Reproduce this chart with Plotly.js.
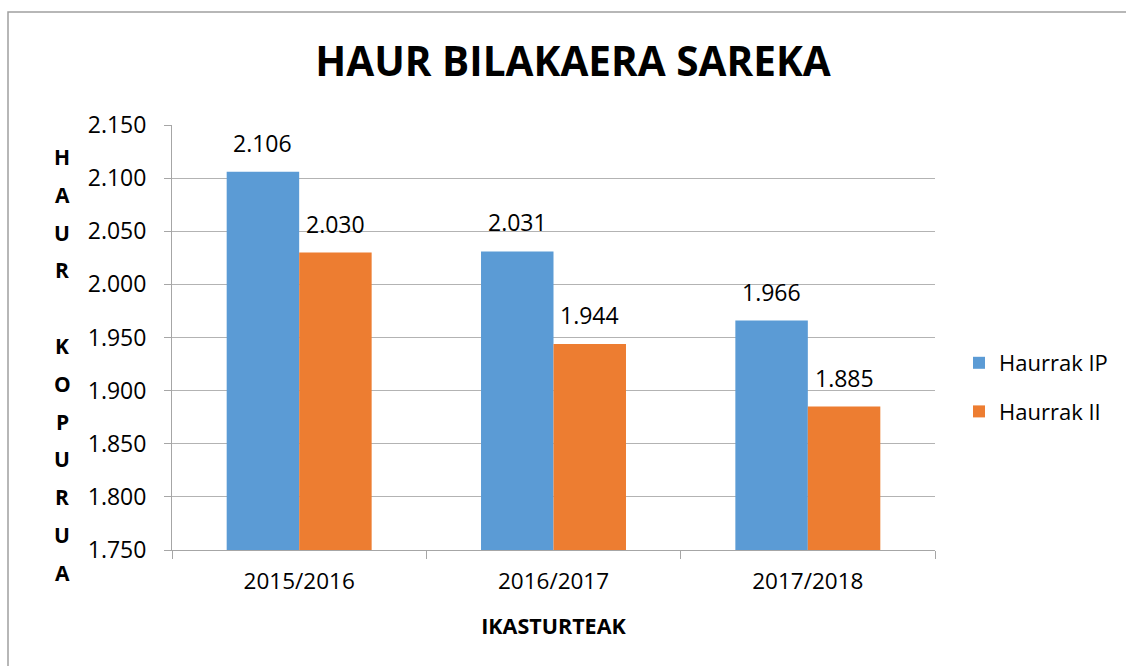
<!DOCTYPE html>
<html>
<head>
<meta charset="utf-8">
<script src="https://cdn.plot.ly/plotly-3.0.1.min.js"></script>
<style>html,body{margin:0;padding:0;background:#fff;}#chart{width:1126px;height:666px;}</style>
</head>
<body>
<div id="chart"></div>
<script>
const categories = ["2015/2016", "2016/2017", "2017/2018"];
const seriesNames = ["Haurrak IP", "Haurrak II"];
const valuesIP = [2106, 2031, 1966];
const valuesII = [2030, 1944, 1885];
const chartTitle = "HAUR BILAKAERA SAREKA";
const xTitle = "IKASTURTEAK";
const yTitle = "HAUR KOPURUA";

const W = 1126, H = 666;
const M = {l: 172, r: 191, t: 125, b: 116};
const pw = W - M.l - M.r, ph = H - M.t - M.b;
const px = x => (x - M.l) / pw;
const py = y => (H - M.b - y) / ph;

const FONT = "Open Sans, Noto Sans, sans-serif";
const colors = ["#5B9BD5", "#ED7D31"];
const bargap = 0.43;
const off = (1 - bargap) / 4;

const traces = [
  {type: "bar", name: seriesNames[0], x: categories, y: valuesIP, marker: {color: colors[0]}, legendgroup: "a"},
  {type: "bar", name: seriesNames[1], x: categories, y: valuesII, marker: {color: colors[1]}, legendgroup: "b"}
];

const fmt = v => Math.floor(v / 1000) + "." + String(v % 1000).padStart(3, "0");

const annotations = [];
[valuesIP, valuesII].forEach((vals, s) => {
  vals.forEach((v, i) => {
    annotations.push({
      x: i + (s === 0 ? -off : off), y: v, xref: "x", yref: "y",
      text: fmt(v),
      showarrow: false, yanchor: "bottom", yshift: 11,
      font: {family: FONT, size: 23, color: "#000"}
    });
  });
});

// stacked y-axis title letters
const letters = yTitle.split("");
const yStart = 157, yStep = 37.8;
letters.forEach((ch, k) => {
  if (ch === " ") return;
  annotations.push({
    x: px(62), y: py(yStart + k * yStep), xref: "paper", yref: "paper",
    text: "<b>" + ch + "</b>", showarrow: false, xanchor: "center", yanchor: "middle",
    font: {family: FONT, size: 21, color: "#000"}
  });
});

const layout = {
  width: W, height: H,
  margin: M,
  paper_bgcolor: "#fff", plot_bgcolor: "#fff",
  separators: ",.",
  font: {family: FONT, color: "#000"},
  title: {text: "<b>" + chartTitle + "</b>", font: {family: FONT, size: 40.5, color: "#000"},
          x: px(573), xref: "paper", xanchor: "center", y: 1 - 62 / H, yanchor: "middle"},
  barmode: "group", bargap: bargap, bargroupgap: 0,
  xaxis: {
    type: "category", showgrid: false, showline: true, linecolor: "#a6a6a6", linewidth: 1,
    ticks: "outside", tickson: "boundaries", ticklen: 8, tickcolor: "#a6a6a6",
    ticklabelstandoff: 11,
    tickfont: {family: FONT, size: 22.5, color: "#000"},
    title: {text: "<b>" + xTitle + "</b>", font: {family: FONT, size: 21.5, color: "#000"}, standoff: 23},
    fixedrange: true
  },
  yaxis: {
    range: [1750, 2150], dtick: 50, tick0: 1750, tickformat: ",",
    showgrid: true, gridcolor: "#b3b3b3", gridwidth: 1,
    showline: true, linecolor: "#a6a6a6", linewidth: 1,
    ticks: "outside", ticklen: 7, tickcolor: "#a6a6a6", ticklabelstandoff: 13,
    tickfont: {family: FONT, size: 23, color: "#000"},
    zeroline: false, fixedrange: true
  },
  legend: {
    x: px(959), y: py(342), xanchor: "left", yanchor: "top",
    font: {family: FONT, size: 22, color: "#000"},
    tracegroupgap: 17, bgcolor: "rgba(0,0,0,0)"
  },
  annotations: annotations,
  shapes: [{
    type: "rect", xref: "paper", yref: "paper",
    x0: px(8), x1: px(1140), y0: py(680), y1: py(12),
    line: {color: "#a0a0a0", width: 1.5}, fillcolor: "rgba(0,0,0,0)", layer: "below"
  }]
};

Plotly.newPlot("chart", traces, layout, {displayModeBar: false, staticPlot: true});
</script>
</body>
</html>
